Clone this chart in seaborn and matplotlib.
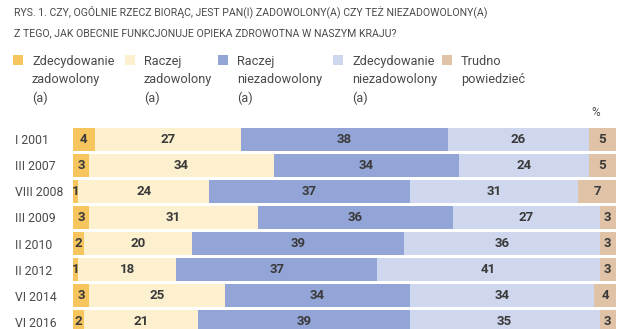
import matplotlib
matplotlib.use("Agg")
import matplotlib.pyplot as plt
from matplotlib.patches import Rectangle
import numpy as np
import pandas as pd
import seaborn as sns

sns.set_theme(style="white")
plt.rcParams["font.family"] = ["Roboto", "DejaVu Sans"]

# Survey waves and answer shares (%)
waves = ["I 2001", "III 2007", "VIII 2008", "III 2009", "II 2010", "II 2012", "VI 2014", "VI 2016"]
zdecydowanie_zadowolony = [4, 3, 1, 3, 2, 1, 3, 2]
raczej_zadowolony = [27, 34, 24, 31, 20, 18, 25, 21]
raczej_niezadowolony = [38, 34, 37, 36, 39, 37, 34, 39]
zdecydowanie_niezadowolony = [26, 24, 31, 27, 36, 41, 34, 35]
trudno_powiedziec = [5, 5, 7, 3, 3, 3, 4, 3]

categories = [
    "Zdecydowanie\nzadowolony\n(a)",
    "Raczej\nzadowolony\n(a)",
    "Raczej\nniezadowolony\n(a)",
    "Zdecydowanie\nniezadowolony\n(a)",
    "Trudno\npowiedzieć",
]
colors = ["#F6C55E", "#FDF0CF", "#93A5D6", "#CFD7EE", "#E0C3A6"]

series = [zdecydowanie_zadowolony, raczej_zadowolony, raczej_niezadowolony,
          zdecydowanie_niezadowolony, trudno_powiedziec]

df = pd.DataFrame({"wave": waves})
for name, vals in zip(categories, series):
    df[name] = vals
cum = df[categories].cumsum(axis=1)

fig = plt.figure(figsize=(6.24, 3.29), dpi=100)
W, H = 624, 329
ax = fig.add_axes([73 / W, 0, (616 - 73) / W, 1 - 125 / H])

# stacked bars: draw cumulative totals from the outermost segment inwards
for name, col in reversed(list(zip(categories, colors))):
    sns.barplot(data=cum, x=cum[name], y=df["wave"], orient="h", color=col,
                saturation=1, width=0.88, ax=ax, linewidth=0)

for i in range(len(waves)):
    for name in categories:
        v = df.loc[i, name]
        center = cum.loc[i, name] - v / 2
        ax.text(center, i, f"{v}", ha="center", va="center",
                fontsize=9.5, fontweight="bold", color="#3a3a3a")

ax.set_xlim(0, 100)
ax.set_ylim(7.27, -0.536)
ax.set_xlabel("")
ax.set_ylabel("")
ax.set_xticks([])
for s in ax.spines.values():
    s.set_visible(False)
ax.tick_params(axis="y", length=0, pad=(73 - 15) * 72 / 100, labelsize=8.8,
               labelcolor="#4a4a4a")
for lab in ax.get_yticklabels():
    lab.set_horizontalalignment("left")

# title
fig.text(14 / W, 1 - 12 / H,
         "RYS. 1. CZY, OGÓLNIE RZECZ BIORĄC, JEST PAN(I) ZADOWOLONY(A) CZY TEŻ NIEZADOWOLONY(A)",
         fontsize=7.6, color="#4a4a4a", va="center", ha="left")
fig.text(14 / W, 1 - 33 / H,
         "Z TEGO, JAK OBECNIE FUNKCJONUJE OPIEKA ZDROWOTNA W NASZYM KRAJU?",
         fontsize=7.6, color="#4a4a4a", va="center", ha="left")

# legend
sq_x = [13, 125, 218, 333, 442]
for x, name, col in zip(sq_x, categories, colors):
    fig.add_artist(Rectangle((x / W, 1 - 65 / H), 10 / W, 10 / H,
                             transform=fig.transFigure, color=col, lw=0))
    fig.text((x + 19) / W, 1 - 55 / H, name, fontsize=9.2, color="#4a4a4a",
             va="top", ha="left", linespacing=1.5)

fig.text(596 / W, 1 - 113 / H, "%", fontsize=8.5, color="#4a4a4a",
         ha="center", va="center")

fig.savefig("out.png", dpi=100)
